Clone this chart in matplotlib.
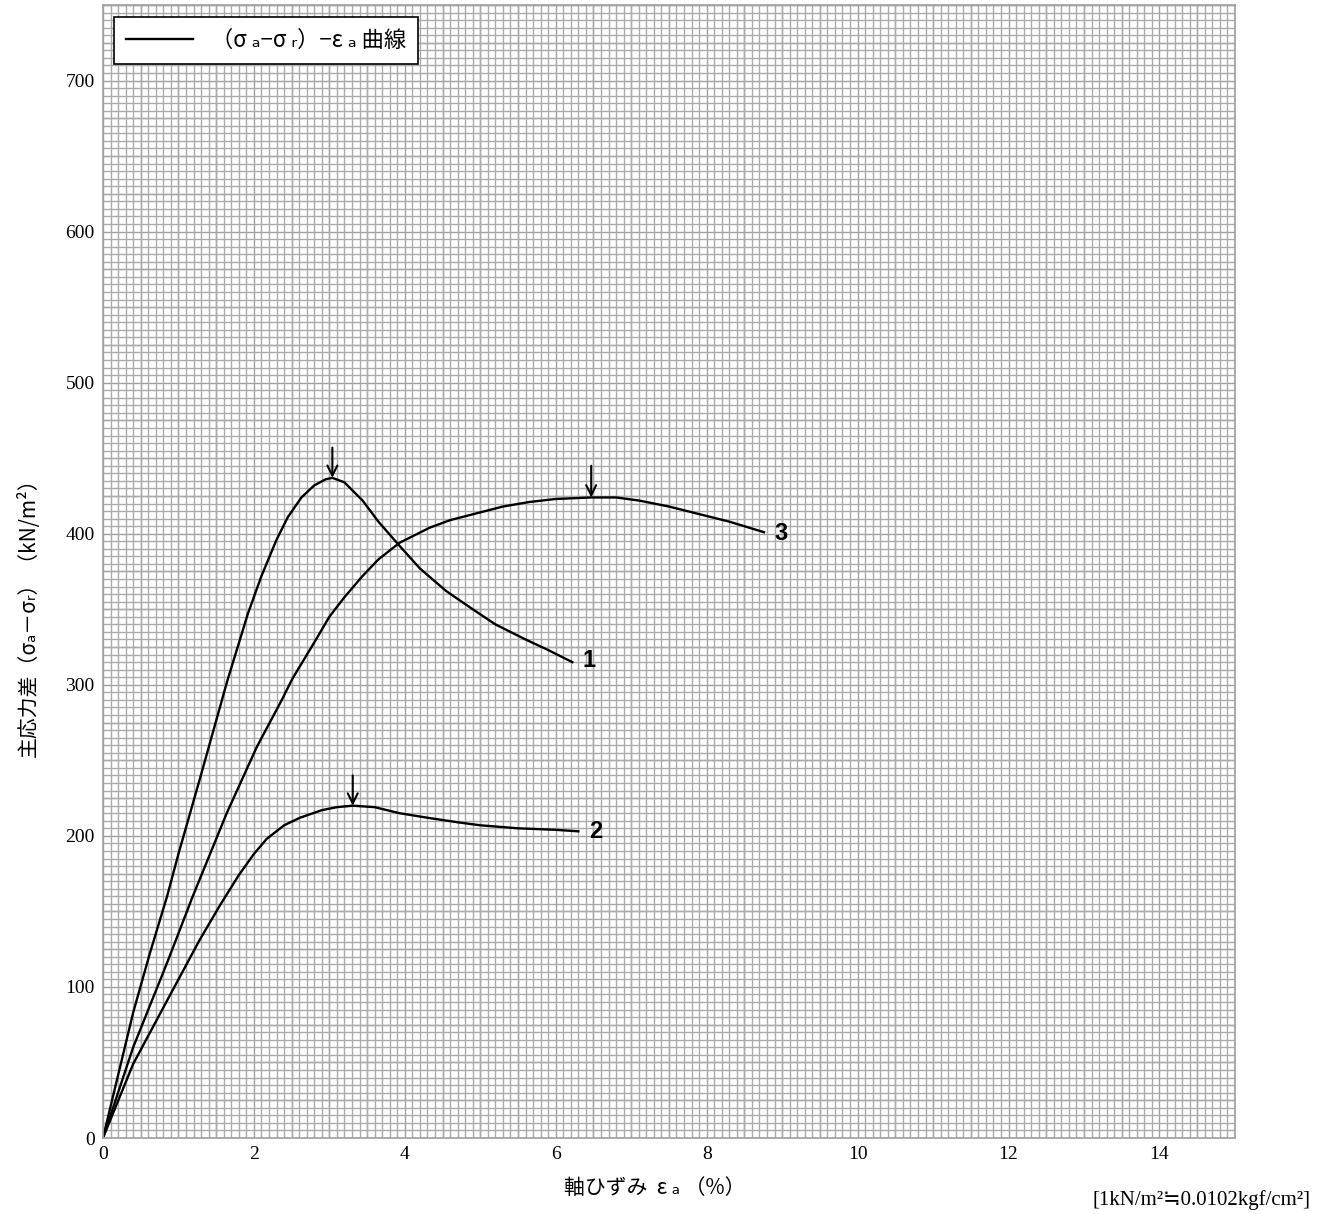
import numpy as np
import matplotlib.pyplot as plt

# curve 1
strain1 = [0, 0.4, 0.62, 0.85, 1.0, 1.28, 1.65, 1.92, 2.1, 2.3, 2.45, 2.63, 2.8, 2.95, 3.04,
           3.2, 3.44, 3.65, 3.93, 4.2, 4.55, 4.9, 5.2, 5.6, 5.9, 6.22]
stress1 = [0, 83, 122, 160, 188, 237, 303, 347, 372, 396, 411, 424, 432, 436, 437,
           434, 422, 408, 392, 377, 362, 350, 340, 330, 323, 315]

# curve 2
strain2 = [0, 0.4, 0.85, 1.28, 1.55, 1.8, 2.0, 2.17, 2.4, 2.61, 2.9, 3.1, 3.31, 3.6, 3.93,
           4.3, 4.7, 5.0, 5.5, 6.0, 6.3]
stress2 = [0, 49, 91, 131, 154, 174, 188, 198, 207, 212, 217, 219, 220, 219, 215,
           212, 209, 207, 205, 204, 203]

# curve 3
strain3 = [0, 0.4, 0.85, 1.19, 1.64, 2.04, 2.37, 2.51, 2.8, 3.0, 3.2, 3.44, 3.65, 3.93,
           4.33, 4.6, 4.99, 5.3, 5.65, 6.0, 6.47, 6.8, 7.1, 7.5, 7.9, 8.3, 8.76]
stress3 = [0, 60, 116, 160, 215, 259, 290, 304, 328, 345, 358, 372, 383, 394,
           404, 409, 414, 418, 421, 423, 424, 424, 422, 418, 413, 408, 401]

# peak arrows: (strain, tip, tail)
peaks = [(3.04, 437, 457), (6.47, 424, 445), (3.31, 220, 240)]

# curve numbers
curve_labels = ["1", "2", "3"]
label_x = [6.44, 6.53, 8.98]
label_y = [316, 203, 400]

xticks = [0, 2, 4, 6, 8, 10, 12, 14]
yticks = [0, 100, 200, 300, 400, 500, 600, 700]

jp = ["Noto Sans CJK JP", "DejaVu Sans"]
serif = ["Liberation Serif", "Noto Sans CJK JP", "DejaVu Sans"]

fig = plt.figure(figsize=(13.32, 12.14), dpi=100)
ax = fig.add_axes([0.0773, 0.0626, 0.8498, 0.9333])

# graph paper grid
ax.set_xlim(0, 15)
ax.set_ylim(0, 750)
ax.set_xticks(np.arange(0, 15.01, 0.1), minor=True)
ax.set_yticks(np.arange(0, 750.1, 5), minor=True)
ax.grid(which="minor", color="#ababab", lw=1.0)
ax.vlines(np.arange(0, 15.01, 0.5), 0, 750, color="#a0a0a0", lw=1.0, zorder=0.5)
ax.hlines(np.arange(0, 750.1, 25), 0, 15, color="#a0a0a0", lw=1.0, zorder=0.5)
ax.set_axisbelow(True)
for s in ax.spines.values():
    s.set_color("#a0a0a0")
    s.set_linewidth(1.2)

ax.set_xticks(xticks)
ax.set_yticks(yticks)
ax.set_xticklabels([str(t) for t in xticks], family=serif, fontsize=14)
ax.set_yticklabels([str(t) for t in yticks], family=serif, fontsize=14)
ax.tick_params(which="both", length=0, pad=6)

ax.plot(strain1, stress1, color="black", lw=1.7, label="（σ ₐ−σ ᵣ）−ε ₐ 曲線")
ax.plot(strain2, stress2, color="black", lw=1.7)
ax.plot(strain3, stress3, color="black", lw=1.7)

for x, tip, tail in peaks:
    ax.annotate("", xy=(x, tip), xytext=(x, tail),
                arrowprops=dict(arrowstyle="->", color="black", lw=1.5,
                                mutation_scale=18, shrinkA=0, shrinkB=0))

for t, x, y in zip(curve_labels, label_x, label_y):
    ax.text(x, y, t, fontsize=17, fontweight="bold", family="Liberation Sans",
            ha="center", va="center")

leg = ax.legend(loc="upper left", prop={"family": jp, "size": 16},
                frameon=True, fancybox=False, edgecolor="black", framealpha=1,
                handlelength=3.0, borderpad=0.55, bbox_to_anchor=(0.0, 0.9995))
leg.get_frame().set_linewidth(1.2)

fig.text(655 / 1332, 1 - 1188 / 1214, "軸ひずみ  ε ₐ （%）", family=jp, fontsize=15,
         ha="center", va="center")
fig.text(28 / 1332, 1 - 612 / 1214, "主応力差（σₐ－σᵣ）（kN/m²）", family=jp,
         fontsize=15, rotation=90, ha="center", va="center")
fig.text(1310 / 1332, 1 - 1200 / 1214, "[1kN/m²≒0.0102kgf/cm²]", family=serif,
         fontsize=15, ha="right", va="center")

fig.savefig("out.png", dpi=100)
